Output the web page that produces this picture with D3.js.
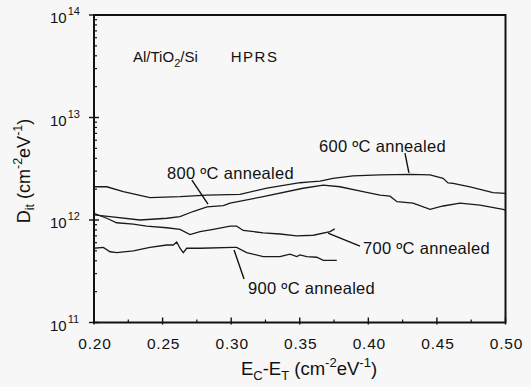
<!DOCTYPE html>
<html>
<head>
<meta charset="utf-8">
<script src="https://cdn.jsdelivr.net/npm/d3@7"></script>
<style>
  body { margin: 0; background: #f7f7f7; }
  svg { display: block; font-family: "Liberation Sans", Arial, sans-serif; }
</style>
</head>
<body>
<div id="plot-container"></div>
<script>
// energy axis values (E_C - E_T) and D_it values
const x600 = [0.200, 0.202, 0.2093, 0.2214, 0.2408, 0.2627, 0.2822, 0.3064, 0.3261, 0.3502, 0.3575, 0.3648, 0.3742, 0.3888, 0.4085, 0.4304, 0.4450, 0.4545, 0.4581, 0.4618, 0.4742, 0.4909, 0.500];
const y600 = [2.11e12, 2.11e12, 2.11e12, 1.89e12, 1.65e12, 1.69e12, 1.75e12, 1.78e12, 2.05e12, 2.31e12, 2.36e12, 2.40e12, 2.55e12, 2.69e12, 2.75e12, 2.79e12, 2.75e12, 2.55e12, 2.30e12, 2.28e12, 2.11e12, 1.85e12, 1.82e12];

const x800 = [0.200, 0.2117, 0.2335, 0.2532, 0.2627, 0.2722, 0.2824, 0.2943, 0.2992, 0.3234, 0.3524, 0.3672, 0.3793, 0.3961, 0.4085, 0.4158, 0.4209, 0.4326, 0.4450, 0.4545, 0.4669, 0.4814, 0.4982, 0.500];
const y800 = [1.12e12, 1.08e12, 1.00e12, 1.04e12, 1.08e12, 1.21e12, 1.34e12, 1.38e12, 1.46e12, 1.69e12, 2.04e12, 2.19e12, 2.11e12, 1.89e12, 1.75e12, 1.71e12, 1.51e12, 1.46e12, 1.27e12, 1.37e12, 1.46e12, 1.40e12, 1.27e12, 1.25e12];

const x700 = [0.200, 0.2093, 0.2165, 0.2287, 0.2384, 0.2530, 0.2627, 0.2700, 0.2773, 0.2870, 0.2992, 0.3040, 0.3088, 0.3234, 0.3356, 0.3478, 0.3599, 0.3721, 0.3755];
const y700 = [1.16e12, 1.04e12, 0.94e12, 0.91e12, 0.87e12, 0.84e12, 0.81e12, 0.72e12, 0.77e12, 0.81e12, 0.87e12, 0.87e12, 0.79e12, 0.75e12, 0.73e12, 0.70e12, 0.71e12, 0.77e12, 0.82e12];

const x900 = [0.200, 0.2068, 0.2117, 0.2165, 0.2287, 0.2408, 0.2530, 0.2578, 0.2603, 0.2627, 0.2651, 0.2676, 0.2773, 0.3016, 0.3040, 0.3113, 0.3234, 0.3356, 0.3429, 0.3478, 0.3502, 0.3551, 0.3624, 0.3672, 0.3721, 0.377];
const y900 = [5.3e11, 5.4e11, 4.9e11, 4.8e11, 5.0e11, 5.4e11, 5.7e11, 5.7e11, 6.1e11, 5.3e11, 4.8e11, 5.3e11, 5.3e11, 5.4e11, 5.4e11, 4.8e11, 4.4e11, 4.4e11, 4.65e11, 4.4e11, 4.56e11, 4.4e11, 4.33e11, 4.04e11, 4.04e11, 4.04e11];

const xTicks = [0.20, 0.25, 0.30, 0.35, 0.40, 0.45, 0.50];
const yTickExp = [11, 12, 13, 14];

// label text, label anchor (data coords), pointer start -> end (data coords)
const labels = ['600 ºC annealed', '800 ºC annealed', '700 ºC annealed', '900 ºC annealed'];
const labelX = [0.364, 0.2532, 0.3961, 0.3123];
const labelY = [4.6e12, 2.53e12, 4.66e11, 1.90e11];
const ptrX0 = [0.4267, 0.2714, 0.3939, 0.3094];
const ptrY0 = [4.5e12, 2.45e12, 5.57e11, 2.66e11];
const ptrX1 = [0.4296, 0.2831, 0.3706, 0.3021];
const ptrY1 = [2.88e12, 1.43e12, 7.46e11, 5.1e11];

const W = 531, H = 387;
const mLeft = 94, mRight = 505.5, mTop = 15, mBottom = 322.5;

const svg = d3.select('#plot-container')
  .append('svg')
  .attr('width', W)
  .attr('height', H);

svg.append('rect').attr('width', W).attr('height', H).attr('fill', '#f7f7f7');

const xScale = d3.scaleLinear().domain([0.2, 0.5]).range([mLeft, mRight]);
const yScale = d3.scaleLog().domain([1e11, 1e14]).range([mBottom, mTop]);

// minor ticks
const xMinor = d3.range(0.225, 0.5, 0.05);
svg.append('g').selectAll('line').data(xMinor).join('line')
  .attr('x1', d => xScale(d)).attr('x2', d => xScale(d))
  .attr('y1', mBottom).attr('y2', mBottom - 3)
  .attr('stroke', '#111').attr('stroke-width', 1.2);

const yMinor = [];
[11, 12, 13].forEach(e => { for (let m = 2; m <= 9; m++) yMinor.push(m * Math.pow(10, e)); });
svg.append('g').selectAll('line').data(yMinor).join('line')
  .attr('x1', mLeft).attr('x2', mLeft + 3)
  .attr('y1', d => yScale(d)).attr('y2', d => yScale(d))
  .attr('stroke', '#111').attr('stroke-width', 1.2);

// major ticks
svg.append('g').selectAll('line').data(xTicks).join('line')
  .attr('x1', d => xScale(d)).attr('x2', d => xScale(d))
  .attr('y1', mBottom + 2).attr('y2', mBottom - 5)
  .attr('stroke', '#111').attr('stroke-width', 1.4);

svg.append('g').selectAll('line').data(yTickExp).join('line')
  .attr('x1', mLeft - 5).attr('x2', mLeft + 5)
  .attr('y1', d => yScale(Math.pow(10, d))).attr('y2', d => yScale(Math.pow(10, d)))
  .attr('stroke', '#111').attr('stroke-width', 1.4);

// frame
svg.append('rect')
  .attr('x', mLeft).attr('y', mTop)
  .attr('width', mRight - mLeft).attr('height', mBottom - mTop)
  .attr('fill', 'none').attr('stroke', '#111').attr('stroke-width', 2);

// tick labels
const fmt = d3.format('.2f');
svg.append('g').selectAll('text').data(xTicks).join('text')
  .attr('x', d => xScale(d) + 1).attr('y', mBottom + 26)
  .attr('text-anchor', 'middle').attr('font-size', 15.5).attr('letter-spacing', 0.8).attr('fill', '#111')
  .text(d => fmt(d));

const yl = svg.append('g').selectAll('text').data(yTickExp).join('text')
  .attr('x', mLeft - 44).attr('y', d => yScale(Math.pow(10, d)) + 8)
  .attr('text-anchor', 'start').attr('font-size', 15).attr('fill', '#111');
yl.append('tspan').text('10');
yl.append('tspan').attr('font-size', 11).attr('dx', 1).attr('dy', -8).text(d => d);

// axis titles
const xt = svg.append('text')
  .attr('x', 309).attr('y', 375)
  .attr('text-anchor', 'middle').attr('font-size', 18.5).attr('fill', '#111');
xt.append('tspan').text('E');
xt.append('tspan').attr('font-size', 13).attr('dy', 5).text('C');
xt.append('tspan').attr('dy', -5).text('-E');
xt.append('tspan').attr('font-size', 13).attr('dy', 5).text('T');
xt.append('tspan').attr('dy', -5).text(' (cm');
xt.append('tspan').attr('font-size', 13).attr('dy', -8).text('-2');
xt.append('tspan').attr('dy', 8).text('eV');
xt.append('tspan').attr('font-size', 13).attr('dy', -8).text('-1');
xt.append('tspan').attr('dy', 8).text(')');

const yt = svg.append('text')
  .attr('transform', 'translate(30,171) rotate(-90)')
  .attr('text-anchor', 'middle').attr('font-size', 18).attr('fill', '#111');
yt.append('tspan').text('D');
yt.append('tspan').attr('font-size', 12.5).attr('dy', 4).text('it');
yt.append('tspan').attr('dy', -4).text(' (cm');
yt.append('tspan').attr('font-size', 12.5).attr('dy', -8).text('-2');
yt.append('tspan').attr('dy', 8).text('eV');
yt.append('tspan').attr('font-size', 12.5).attr('dy', -8).text('-1');
yt.append('tspan').attr('dy', 8).text(')');

// sample title
const st = svg.append('text')
  .attr('x', 133).attr('y', 62)
  .attr('font-size', 15).attr('fill', '#111');
st.append('tspan').text('Al/TiO');
st.append('tspan').attr('font-size', 11).attr('dy', 5).text('2');
st.append('tspan').attr('dy', -5).text('/Si');
st.append('tspan').attr('dx', 33).attr('letter-spacing', 1.5).text('HPRS');

// curves
const line = d3.line()
  .x(d => xScale(d[0]))
  .y(d => yScale(d[1]));

[[x600, y600], [x800, y800], [x700, y700], [x900, y900]].forEach(([xs, ys]) => {
  svg.append('path')
    .attr('d', line(xs.map((x, i) => [x, ys[i]])))
    .attr('fill', 'none')
    .attr('stroke', '#1a1a1a')
    .attr('stroke-width', 1.3);
});

// annotations
labels.forEach((t, i) => {
  svg.append('line')
    .attr('x1', xScale(ptrX0[i])).attr('y1', yScale(ptrY0[i]))
    .attr('x2', xScale(ptrX1[i])).attr('y2', yScale(ptrY1[i]))
    .attr('stroke', '#111').attr('stroke-width', 1.4);
  svg.append('text')
    .attr('x', xScale(labelX[i])).attr('y', yScale(labelY[i]))
    .attr('font-size', 16.5).attr('letter-spacing', 0.3).attr('fill', '#111')
    .text(t);
});
</script>
</body>
</html>
